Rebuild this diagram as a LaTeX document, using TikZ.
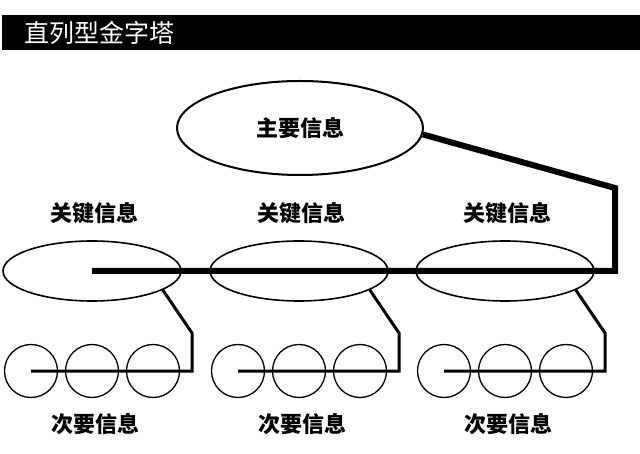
\documentclass[tikz,border=0pt]{standalone}
\usepackage{fontspec}
\newfontfamily\cjk{Noto Sans CJK SC}
\usepackage{tikz}
\usetikzlibrary{shapes.geometric}
\tikzset{
  base/.style={font=\cjk\bfseries\fontsize{22}{24}\selectfont, inner sep=0pt, text=black},
  lbl/.style={base},
  ttl/.style={font=\cjk\fontsize{25}{27}\selectfont, inner sep=0pt, text=white},
  titlebar/.style={rectangle, fill=black, draw=none, inner sep=0pt},
  mainell/.style={base, ellipse, draw=black, line width=2pt, minimum width=246pt, minimum height=94pt},
  keyell/.style={ellipse, draw=black, line width=1.6pt, minimum width=178pt, minimum height=60pt},
  subcirc/.style={circle, draw=black, line width=1.3pt, minimum size=53pt, inner sep=0pt},
  spine/.style={line width=6pt, line join=miter, draw=black},
  link/.style={line width=3pt, line join=miter, draw=black},
}
\begin{document}
\begin{tikzpicture}[x=1pt,y=-1pt]
  \useasboundingbox (0,0) rectangle (640,454);
  % heading
  \node[titlebar,minimum width=638pt,minimum height=35pt,anchor=north west] (bar) at (2,15) {};
  \node[ttl,anchor=west] (head) at (24,33) {直列型金字塔};
  \node[mainell] (main) at (300,128) {主要信息};
  % three groups
  \foreach \g/\x in {1/92,2/299,3/505}{
    \node[lbl] (kt\g) at (\x+2,213) {关键信息};
    \node[keyell] (k\g) at (\x,271) {};
    \foreach \c/\d in {a/-61,b/0,c/61}{\node[subcirc] (s\g\c) at (\x+\d,371) {};}
    \node[lbl] (st\g) at (\x+3,424) {次要信息};
    \coordinate (bend\g) at (\x+100,333);
    \coordinate (foot\g) at (\x+100,371);
    \draw[link] (k\g.-15) -- (bend\g) -- (foot\g) -- (s\g a.center);
  }
  \coordinate (rt) at (615,188);
  \coordinate (rb) at (615,271);
  \draw[spine] (main.-3) -- (rt) -- (rb) -- (k1.center);
\end{tikzpicture}
\end{document}
